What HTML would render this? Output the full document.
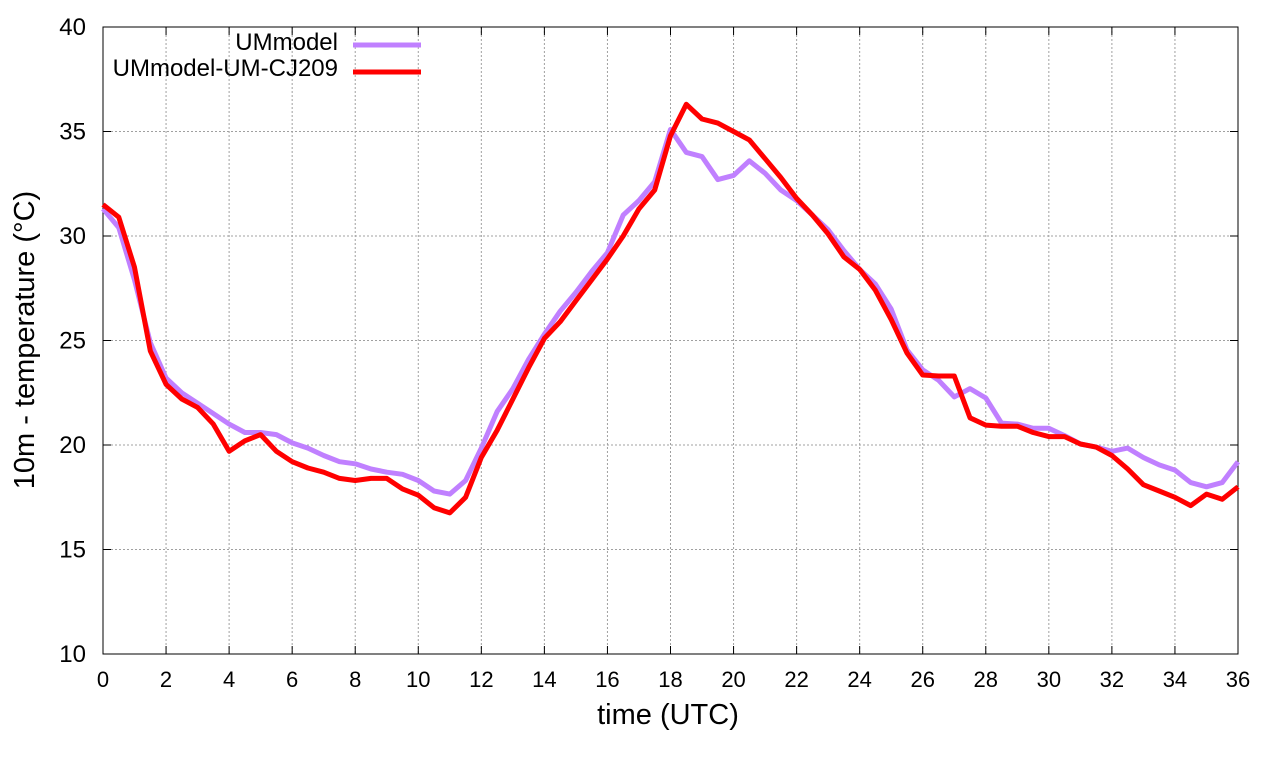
<!DOCTYPE html>
<html><head><meta charset="utf-8"><style>
html,body{margin:0;padding:0;background:#fff;}
svg{display:block;font-family:"Liberation Sans",sans-serif;}
</style></head><body>
<svg id="chart" width="1280" height="760" viewBox="0 0 1280 760" xmlns="http://www.w3.org/2000/svg">
<g id="grid"></g>
<g id="axes"></g>
<g id="series"></g>
<text x="668" y="724" font-size="29" text-anchor="middle">time (UTC)</text>
<text transform="translate(34,340) rotate(-90)" font-size="29" text-anchor="middle">10m - temperature (°C)</text>
<g>
<text x="338" y="50" font-size="24" text-anchor="end">UMmodel</text>
<line x1="353" y1="45" x2="421" y2="45" stroke="#c080ff" stroke-width="5"/>
<text x="338" y="76" font-size="24" text-anchor="end">UMmodel-UM-CJ209</text>
<line x1="353" y1="72" x2="421" y2="72" stroke="#ff0000" stroke-width="5"/>
</g>
</svg>
<script>
const xTicks=[0,2,4,6,8,10,12,14,16,18,20,22,24,26,28,30,32,34,36];
const yTicks=[10,15,20,25,30,35,40];
const umModel=[31.3,30.4,27.9,24.9,23.2,22.5,22.0,21.5,21.0,20.6,20.6,20.5,20.1,19.85,19.5,19.2,19.1,18.85,18.7,18.6,18.3,17.8,17.65,18.3,19.85,21.6,22.7,24.1,25.3,26.4,27.3,28.3,29.2,31.0,31.7,32.6,35.1,34.0,33.8,32.7,32.9,33.6,33.0,32.2,31.7,31.0,30.3,29.3,28.4,27.7,26.5,24.55,23.6,23.1,22.3,22.7,22.25,21.05,21.0,20.8,20.8,20.45,20.05,19.9,19.7,19.85,19.4,19.05,18.8,18.2,18.0,18.2,19.2];
const umCJ209=[31.5,30.9,28.5,24.5,22.9,22.2,21.8,21.0,19.7,20.2,20.5,19.7,19.2,18.9,18.7,18.4,18.3,18.4,18.4,17.9,17.6,17.0,16.75,17.5,19.4,20.7,22.2,23.7,25.1,25.9,26.9,27.9,28.9,30.0,31.3,32.2,34.8,36.3,35.6,35.4,35.0,34.6,33.7,32.8,31.8,31.0,30.1,29.0,28.4,27.4,26.0,24.4,23.35,23.3,23.3,21.3,20.95,20.9,20.9,20.6,20.4,20.4,20.05,19.9,19.5,18.85,18.1,17.8,17.5,17.1,17.65,17.4,18.0];
const timeStep=0.5;
const X0=103,X1=1238,Y0=654,Y1=27,xMin=0,xMax=36,yMin=10,yMax=40;
const xs=v=>X0+(v-xMin)/(xMax-xMin)*(X1-X0);
const ys=v=>Y0-(v-yMin)/(yMax-yMin)*(Y0-Y1);
const NS="http://www.w3.org/2000/svg";
function mk(tag,attrs,parent){const e=document.createElementNS(NS,tag);for(const k in attrs)e.setAttribute(k,attrs[k]);parent.appendChild(e);return e;}
const grid=document.getElementById('grid'),axes=document.getElementById('axes'),series=document.getElementById('series');
xTicks.forEach(t=>{
 const x=xs(t);
 if(t>xMin&&t<xMax){const g=mk('line',{x1:x,y1:Y1,x2:x,y2:Y0,stroke:'#a0a0a0','stroke-width':1,'stroke-dasharray':'2,2'},grid);
 
 }
 const tk=mk('line',{x1:x,y1:Y0,x2:x,y2:Y0-8,stroke:'#000'},axes);
 
 
 const tk2=mk('line',{x1:x,y1:Y1,x2:x,y2:Y1+8,stroke:'#000'},axes);
 
 
 const l=mk('text',{x:x,y:687,'font-size':22,'text-anchor':'middle'},axes);l.textContent=t;
 
 
});
yTicks.forEach(t=>{
 const y=ys(t);
 if(t>yMin&&t<yMax){const g=mk('line',{x1:X0,y1:y,x2:X1,y2:y,stroke:'#a0a0a0','stroke-width':1,'stroke-dasharray':'2,2'},grid);
 
 }
 const tk=mk('line',{x1:X0,y1:y,x2:X0+8,y2:y,stroke:'#000'},axes);
 
 
 const tk2=mk('line',{x1:X1,y1:y,x2:X1-8,y2:y,stroke:'#000'},axes);
 
 
 const l=mk('text',{x:86,y:y+8,'font-size':24,'text-anchor':'end'},axes);l.textContent=t;
 
 
});
const frame=mk('rect',{x:X0,y:Y1,width:X1-X0,height:Y0-Y1,fill:'none',stroke:'#000','stroke-width':1},axes);


function line(data,color,name){
 const d=data.map((v,i)=>(i?'L':'M')+xs(i*timeStep).toFixed(1)+','+ys(v).toFixed(1)).join('');
 const p=mk('path',{d:d,fill:'none',stroke:color,'stroke-width':5,'stroke-linejoin':'round'},series);
 
 
}
line(umModel,'#c080ff','line-ummodel');
line(umCJ209,'#ff0000','line-ummodel-um-cj209');
</script>
</body></html>
